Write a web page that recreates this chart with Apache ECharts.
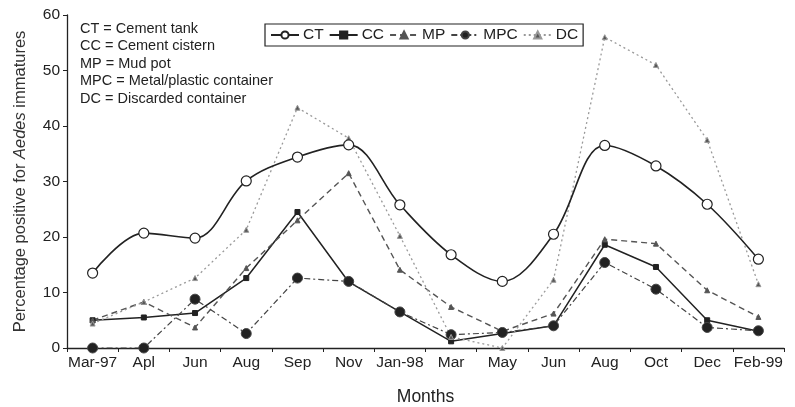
<!DOCTYPE html>
<html><head><meta charset="utf-8">
<script src="https://cdn.jsdelivr.net/npm/echarts@6/dist/echarts.min.js"></script>
<style>html,body{margin:0;padding:0;background:#fff}#c{width:795px;height:407px}</style>
</head><body><div id="c"></div>
<script>
var months = ['Mar-97','Apl','Jun','Aug','Sep','Nov','Jan-98','Mar','May','Jun','Aug','Oct','Dec','Feb-99'];
var CT  = [13.5,20.7,19.8,30.1,34.4,36.6,25.8,16.8,12.0,20.5,36.5,32.8,25.9,16.0];
var CC  = [5.0,5.5,6.3,12.6,24.5,11.9,6.5,1.2,2.6,4.0,18.6,14.6,5.0,3.0];
var MP  = [5.0,8.3,3.7,14.4,23.0,31.5,14.1,7.4,3.0,6.2,19.6,18.8,10.4,5.6];
var MPC = [0,0,8.8,2.6,12.6,12.0,6.5,2.4,2.8,4.0,15.4,10.6,3.7,3.1];
var DC  = [4.4,8.3,12.6,21.3,43.3,37.8,20.2,2.0,0.0,12.3,56.0,51.0,37.5,11.5];
var yTicks = {min:0, max:60, interval:10};
var notes = ['CT = Cement tank','CC = Cement cistern','MP = Mud pot','MPC = Metal/plastic container','DC = Discarded container'];

var font = 'Liberation Sans, Arial, sans-serif';
var chart = echarts.init(document.getElementById('c'), null, {renderer:'canvas'});
function ser(name, data, o) {
  return Object.assign({
    name: name, type: 'line', data: data, z: 3,
    lineStyle: {color: o.color, width: o.width || 1.3, type: o.ltype || 'solid'},
    itemStyle: {color: o.fill, borderColor: o.color, borderWidth: o.bw || 1},
    symbol: o.symbol, symbolSize: o.size, showSymbol: true
  }, o.extra || {});
}
chart.setOption({
  animation: false,
  textStyle: {fontFamily: font},
  grid: {left: 67, right: 11, top: 15, bottom: 59, containLabel: false, outerBoundsMode: 'none'},
  legend: {
    left: 265, top: 24,
    orient: 'horizontal',
    borderColor: '#222', borderWidth: 1.2, padding: [3, 5, 3, 5],
    itemGap: 5, itemWidth: 28, itemHeight: 9,
    textStyle: {fontFamily: font, fontSize: 15.5, color: '#222', padding:[0,0,0,-1]},
    data: ['CT','CC','MP','MPC','DC']
  },
  xAxis: {
    type: 'category', data: months, boundaryGap: true,
    name: 'Months', nameLocation: 'middle', nameGap: 40,
    nameTextStyle: {fontSize: 17.5, color: '#222', fontFamily: font},
    axisLine: {lineStyle: {color: '#222', width: 1.3}},
    axisTick: {show: true, alignWithLabel: false, length: 4, lineStyle: {color: '#222'}},
    axisLabel: {fontSize: 15.5, color: '#222', margin: 7, interval: 0}
  },
  yAxis: {
    type: 'value', min: yTicks.min, max: yTicks.max, interval: yTicks.interval,
    name: '{a|Percentage positive for }{b|Aedes}{a| immatures}',
    nameLocation: 'middle', nameGap: 38, nameRotate: 90,
    nameTextStyle: {rich: {a: {fontSize: 16.5, color: '#333', fontFamily: font}, b: {fontSize: 16.5, color: '#333', fontStyle: 'italic', fontFamily: font}}},
    splitLine: {show: false},
    axisLine: {show: true, lineStyle: {color: '#222', width: 1.3}},
    axisTick: {show: true, length: 4, lineStyle: {color: '#222'}},
    axisLabel: {fontSize: 15.5, color: '#222', margin: 7}
  },
  graphic: [{
    type: 'text', left: 80, top: 20, z: 10,
    style: {text: notes.join('\n'), fontFamily: font, fontSize: 14.5, lineHeight: 17.5, fill: '#222'}
  }],
  series: [
    ser('CT', CT, {color: '#222', fill: '#fff', symbol: 'circle', size: 10, width: 1.6, bw: 1.2, extra: {smooth: 0.35, z: 5}}),
    ser('CC', CC, {color: '#222', fill: '#222', symbol: 'rect', size: 5, width: 1.5}),
    ser('MP', MP, {color: '#555', fill: '#555', symbol: 'triangle', size: 5, width: 1.4, ltype: [6, 4]}),
    ser('MPC', MPC, {color: '#444', fill: '#222', symbol: 'circle', size: 10, width: 1.2, ltype: [6, 3, 2, 3]}),
    ser('DC', DC, {color: '#999', fill: '#555', symbol: 'triangle', size: 5, width: 1.3, ltype: [2, 3]})
  ]
});
</script></body></html>
